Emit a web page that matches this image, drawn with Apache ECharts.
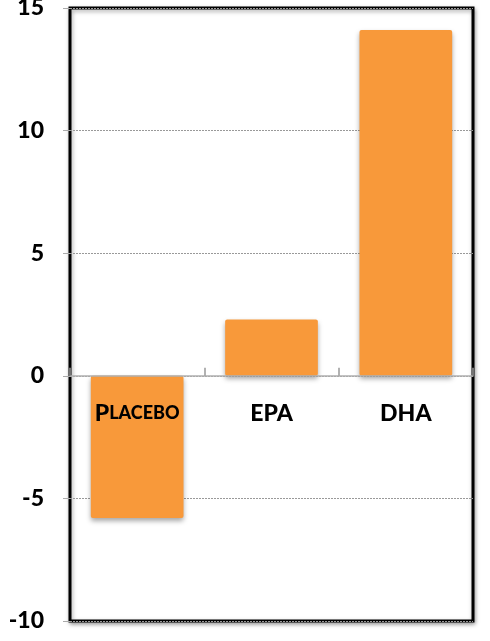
<!DOCTYPE html>
<html>
<head>
<meta charset="utf-8">
<script src="https://cdn.jsdelivr.net/npm/echarts@6/dist/echarts.min.js"></script>
<style>html,body{margin:0;padding:0;background:#fff}#c{width:490px;height:641px}</style>
</head>
<body>
<div id="c"></div>
<script>
var categories = ['PLACEBO', 'EPA', 'DHA'];
var values = [-5.8, 2.3, 14.1];
var yTicks = [-10, -5, 0, 5, 10, 15];
var yMin = -10, yMax = 15;

var W = 490, H = 641, gTop = 8, gBottom = 20;
var gH = H - gTop - gBottom;
var zeroOffset = -gH * (0 - yMin) / (yMax - yMin);

var FONT = 'Lato';
var chart = echarts.init(document.getElementById('c'));
chart.setOption({
  animation: false,
  grid: { left: 70, right: 17, top: gTop, bottom: gBottom, containLabel: false, outerBoundsMode: 'none',
          show: true, borderColor: '#000', borderWidth: 3,
          shadowColor: 'rgba(0,0,0,0.35)', shadowBlur: 4, shadowOffsetX: 1, shadowOffsetY: 2, backgroundColor: '#fff' },
  xAxis: {
    type: 'category', data: categories, position: 'bottom', offset: zeroOffset, z: 10,
    axisLine: { onZero: false, lineStyle: { color: '#b0b0b0', width: 1.5 } },
    axisTick: { show: true, inside: true, length: 8, lineStyle: { color: '#999', width: 1.5 } },
    axisLabel: {
      interval: 0, hideOverlap: false,
      margin: 26, color: '#000', fontWeight: 900, fontSize: 23, fontFamily: FONT,
      formatter: function (v) { return v === 'PLACEBO' ? '{a|P}{b|LACEBO}' : v; },
      rich: {
        a: { fontSize: 23, fontWeight: 900, fontFamily: FONT, color: '#000' },
        b: { fontSize: 18, fontWeight: 900, fontFamily: FONT, color: '#000' }
      }
    }
  },
  yAxis: {
    type: 'value', min: yMin, max: yMax, interval: 5,
    axisLine: { show: false },
    axisTick: { show: true, length: 7, lineStyle: { color: '#aaa' } },
    axisLabel: { margin: 26, color: '#000', fontWeight: 900, fontSize: 23, fontFamily: FONT,
                 formatter: function (v) { return yTicks.indexOf(v) >= 0 ? String(v) : ''; } },
    splitLine: { show: true, lineStyle: { color: '#999', type: [2, 1], width: 1 } }
  },
  series: [{
    type: 'bar', data: values, barWidth: '69%', z: 2,
    itemStyle: { color: '#F8993A', borderRadius: 2,
                 shadowColor: 'rgba(0,0,0,0.35)', shadowBlur: 5, shadowOffsetX: 0, shadowOffsetY: 3 }
  }]
});
</script>
</body>
</html>
